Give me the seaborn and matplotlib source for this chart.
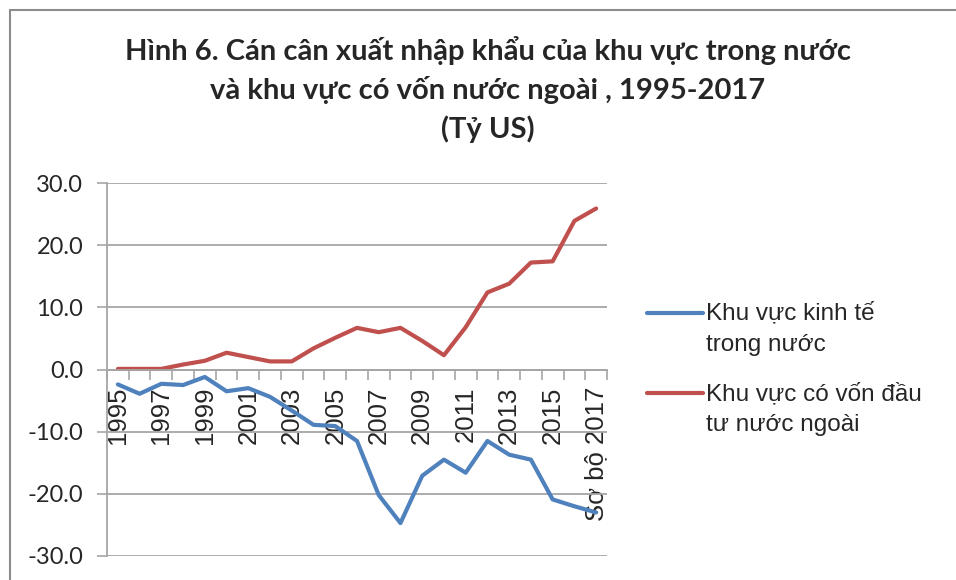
import matplotlib
matplotlib.use("Agg")
import matplotlib.pyplot as plt
from matplotlib.lines import Line2D
import seaborn as sns
import numpy as np
import pandas as pd

# data (ty USD)
nam = ['1995', '1996', '1997', '1998', '1999', '2000', '2001', '2002', '2003',
       '2004', '2005', '2006', '2007', '2008', '2009', '2010', '2011', '2012',
       '2013', '2014', '2015', '2016', 'Sơ bộ 2017']
trong_nuoc = [-2.4, -3.9, -2.3, -2.5, -1.2, -3.5, -3.0, -4.4, -6.6, -8.9, -9.1,
              -11.5, -20.2, -24.7, -17.1, -14.5, -16.6, -11.5, -13.7, -14.5,
              -20.9, -22.0, -23.0]
nuoc_ngoai = [0.1, 0.1, 0.1, 0.8, 1.4, 2.7, 2.0, 1.3, 1.3, 3.4, 5.1, 6.7, 6.0,
              6.7, 4.6, 2.3, 6.8, 12.4, 13.8, 17.2, 17.4, 23.9, 25.9]
ten_series = ['Khu vực kinh tế\ntrong nước', 'Khu vực có vốn đầu\ntư nước ngoài']
mau = ['#4F81BD', '#C0504D']

df = pd.DataFrame({
    'pos': list(range(len(nam))) * 2,
    'value': trong_nuoc + nuoc_ngoai,
    'series': [ten_series[0]] * len(nam) + [ten_series[1]] * len(nam),
})

sns.set_style("white")
plt.rcParams['font.family'] = ['Liberation Sans', 'DejaVu Sans']

fig = plt.figure(figsize=(9.56, 5.8), dpi=100)
ax = fig.add_axes([107 / 956, 1 - 556 / 580, 500 / 956, 373 / 580])

sns.lineplot(data=df, x='pos', y='value', hue='series', palette=mau,
             linewidth=3, ax=ax, legend=False)

ax.set_xlim(-0.5, len(nam) - 0.5)
ax.set_ylim(-30, 30)
ax.set_xlabel('')
ax.set_ylabel('')

# y axis
yt = np.arange(-30, 31, 10)
ax.set_yticks(yt)
ax.set_yticklabels([f'{v:.1f}' for v in yt], fontsize=17, family=['Lato', 'DejaVu Sans'])
ax.grid(axis='y', color='#a6a6a6', linewidth=1.3)
ax.tick_params(axis='y', length=7, width=1.2, color='#a6a6a6', pad=10, left=True)

# x axis sitting on zero
ax.spines['bottom'].set_position(('data', 0))
for s in ['top', 'right']:
    ax.spines[s].set_visible(False)
for s in ['left', 'bottom']:
    ax.spines[s].set_color('#a6a6a6')
    ax.spines[s].set_linewidth(1.3)
ax.set_xticks(range(len(nam)))
ax.set_xticklabels([n if i % 2 == 0 else '' for i, n in enumerate(nam)],
                   rotation=90, fontsize=18.5)
ax.set_xticks(np.arange(-0.5, len(nam), 1), minor=True)
ax.tick_params(axis='x', which='major', length=0, pad=12)
ax.tick_params(axis='x', which='minor', length=7, width=1.2, color='#a6a6a6',
               direction='out', bottom=True)

fig.text(0.51, 1 - 36 / 580,
         'Hình 6. Cán cân xuất nhập khẩu của khu vực trong nước\n'
         'và khu vực có vốn nước ngoài , 1995-2017\n(Tỷ US)',
         ha='center', va='top', fontsize=21, fontweight='bold',
         family=['Lato', 'DejaVu Sans'], linespacing=1.5)

handles = [Line2D([], [], color=c, linewidth=3) for c in mau]
leg = ax.legend(handles, ten_series, loc='upper left',
                bbox_to_anchor=(625 / 956, 1 - 280 / 580),
                bbox_transform=fig.transFigure, frameon=False, fontsize=17.5,
                handlelength=2.3, handletextpad=0.15, labelspacing=1.1,
                handleheight=1.3)
for t in leg.get_texts():
    t.set_linespacing(1.55)
# put each line handle next to the first row of its label, like Excel
for col in leg._legend_handle_box.get_children():
    for row in col.get_children():
        row.align = 'top'

# chart frame
fig.add_artist(Line2D([10 / 956, 10 / 956], [0, 1 - 10 / 580], color='#8c8c8c', linewidth=1.5))
fig.add_artist(Line2D([10 / 956, 1], [1 - 10 / 580, 1 - 10 / 580], color='#8c8c8c', linewidth=1.5))

fig.savefig('out.png', dpi=100)
